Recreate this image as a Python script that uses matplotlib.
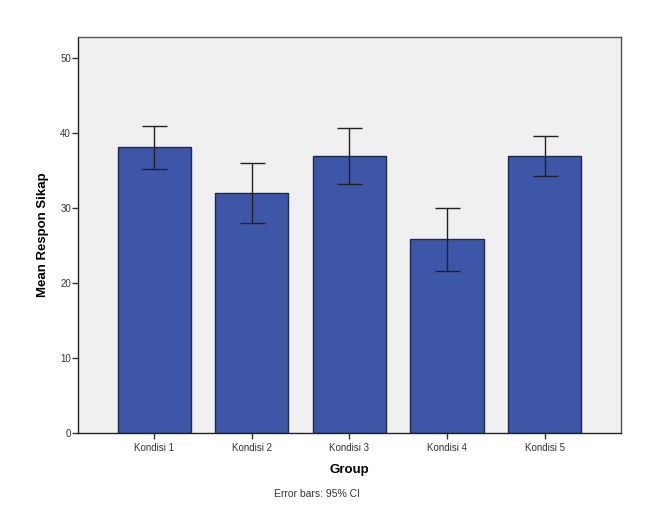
import numpy as np
import matplotlib
matplotlib.use("Agg")
import matplotlib.pyplot as plt

plt.rcParams['font.family'] = ['Liberation Sans', 'DejaVu Sans']

kelompok = ["Kondisi 1", "Kondisi 2", "Kondisi 3", "Kondisi 4", "Kondisi 5"]
rerata = [38.15, 32.0, 36.9, 25.8, 36.9]
ci_bawah = [35.25, 28.0, 33.2, 21.6, 34.25]
ci_atas = [40.95, 36.0, 40.65, 29.95, 39.6]

fig = plt.figure(figsize=(6.51, 5.24), dpi=100)
ax = fig.add_axes([0.1198, 0.1737, 0.834, 0.7557])
ax.set_facecolor("#f0f0f0")

x = np.arange(len(kelompok))
err = [np.array(rerata) - np.array(ci_bawah), np.array(ci_atas) - np.array(rerata)]
ax.bar(x, rerata, width=0.75, color="#3d56a8", edgecolor="#1f2a4a", linewidth=1.0, zorder=2)
ax.errorbar(x, rerata, yerr=err, fmt="none", ecolor="#222222", elinewidth=1.0,
            capsize=9, capthick=1.0, zorder=3)

ax.set_xlim(-0.78, 4.78)
ax.set_ylim(0, 52.8)
ax.set_yticks([0, 10, 20, 30, 40, 50])
ax.set_xticks(x)
ax.set_xticklabels(kelompok, fontsize=7)
ax.tick_params(axis="y", labelsize=7, length=4, width=1, colors="#333333", pad=1)
ax.tick_params(axis="x", length=4, width=1, colors="#333333", pad=3)

for s in ax.spines.values():
    s.set_color("#555555")
    s.set_linewidth(1.0)
ax.spines["left"].set_color("#222222")
ax.spines["bottom"].set_color("#222222")

ax.set_xlabel("Group", fontsize=9.5, fontweight="bold", labelpad=8)
ax.set_ylabel("Mean Respon Sikap", fontsize=9.5, fontweight="bold", labelpad=8)

fig.text(0.4875, 0.057, "Error bars: 95% CI", ha="center", va="center", fontsize=7.5, color="#333333")

fig.savefig("out.png", dpi=100, facecolor="white")
